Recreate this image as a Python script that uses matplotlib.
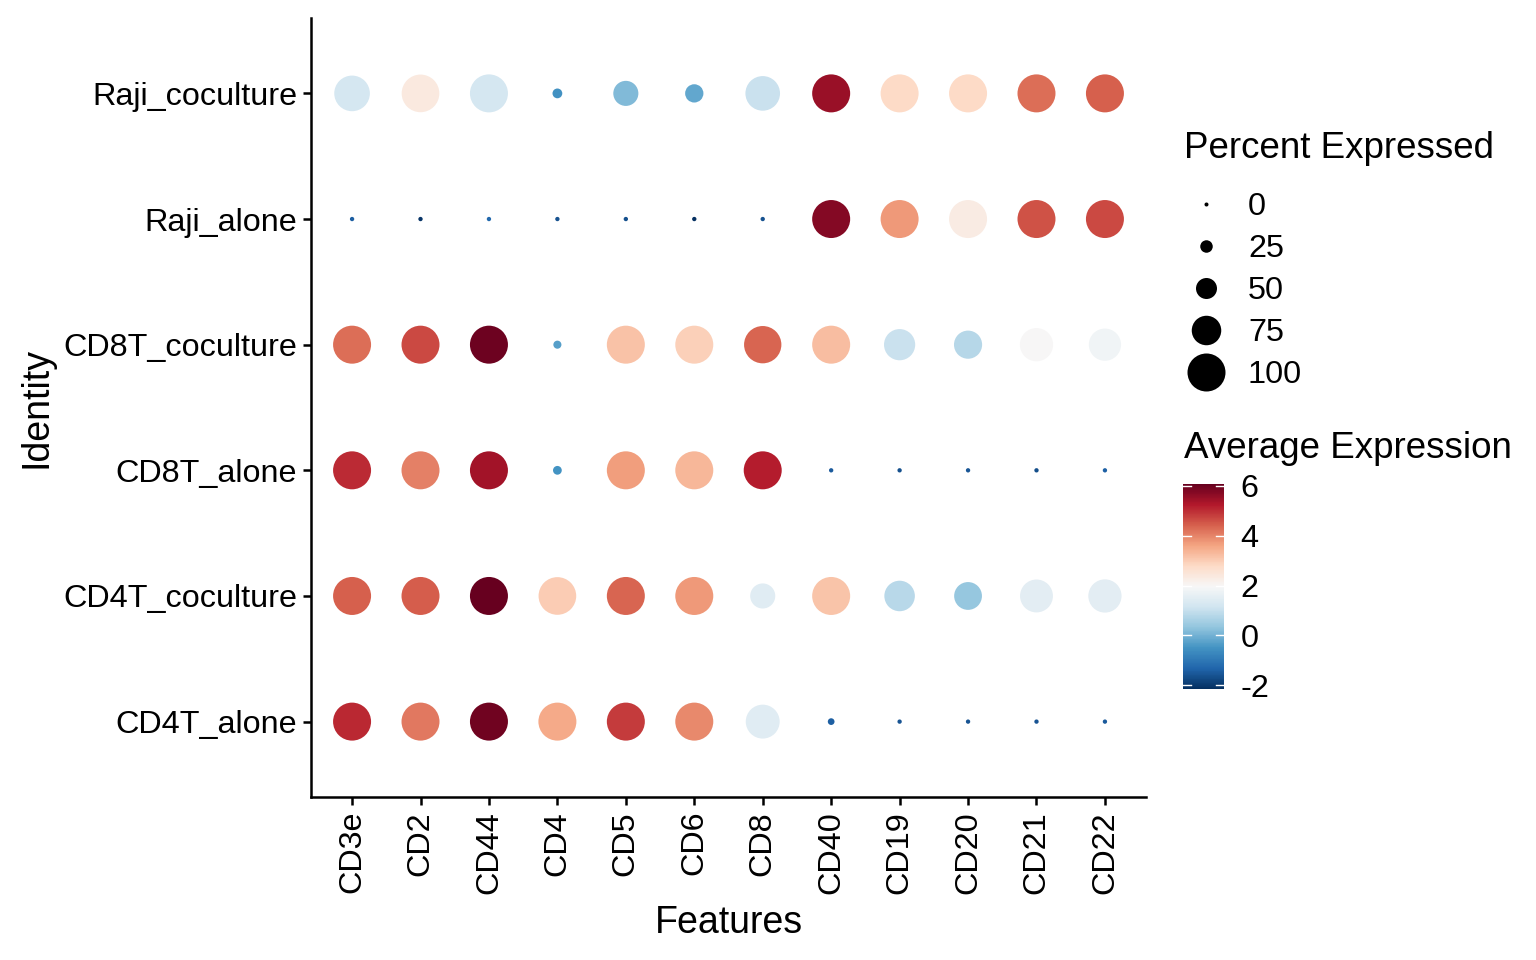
import numpy as np
import matplotlib
matplotlib.use("Agg")
import matplotlib.pyplot as plt
from matplotlib.colors import Normalize
from matplotlib.lines import Line2D

plt.rcParams['font.family'] = ['Liberation Sans', 'DejaVu Sans']
plt.rcParams['axes.unicode_minus'] = False

features = ['CD3e', 'CD2', 'CD44', 'CD4', 'CD5', 'CD6', 'CD8',
            'CD40', 'CD19', 'CD20', 'CD21', 'CD22']
# bottom to top
identities = ['CD4T_alone', 'CD4T_coculture', 'CD8T_alone',
              'CD8T_coculture', 'Raji_alone', 'Raji_coculture']

# percent expressed, one row per identity (bottom to top)
pct_cd4_alone = [100, 100, 100, 100, 100, 100, 88, 8, 1, 1, 1, 1]
pct_cd4_co = [100, 100, 100, 99, 100, 100, 62, 100, 78, 70, 85, 86]
pct_cd8_alone = [100, 100, 100, 14, 100, 100, 100, 1, 1, 1, 1, 1]
pct_cd8_co = [100, 100, 100, 12, 100, 100, 98, 100, 80, 71, 86, 83]
pct_raji_alone = [1, 1, 1, 1, 1, 1, 1, 100, 100, 100, 100, 100]
pct_raji_co = [93, 99, 100, 17, 62, 42, 90, 100, 100, 100, 100, 100]

# average expression
avg_cd4_alone = [5.07, 4.13, 5.96, 3.53, 4.84, 3.94, 1.47, -1.45, -1.6, -1.6, -1.6, -1.5]
avg_cd4_co = [4.43, 4.47, 6.08, 3.0, 4.35, 3.75, 1.47, 3.15, 0.83, 0.36, 1.52, 1.52]
avg_cd8_alone = [5.03, 4.02, 5.43, -0.51, 3.69, 3.32, 5.21, -1.5, -1.65, -1.55, -1.7, -1.4]
avg_cd8_co = [4.27, 4.69, 5.99, -0.32, 3.16, 2.95, 4.35, 3.23, 1.05, 0.78, 1.96, 1.8]
avg_raji_alone = [-1.42, -2.08, -1.29, -1.62, -1.65, -2.16, -1.62, 5.73, 3.75, 2.31, 4.59, 4.68]
avg_raji_co = [1.22, 2.37, 1.22, -0.55, 0.15, -0.19, 1.05, 5.52, 2.78, 2.78, 4.27, 4.43]

pct = np.array([pct_cd4_alone, pct_cd4_co, pct_cd8_alone,
                pct_cd8_co, pct_raji_alone, pct_raji_co])
avg = np.array([avg_cd4_alone, avg_cd4_co, avg_cd8_alone,
                avg_cd8_co, avg_raji_alone, avg_raji_co])

size_breaks = [0, 25, 50, 75, 100]
color_ticks = [-2, 0, 2, 4, 6]

DPI = 100


def dot_size(p):
    # diameter in px grows linearly with percent (like scale_radius)
    d = 4 + 0.34 * np.asarray(p, dtype=float)
    return (d * 72 / DPI) ** 2


fig = plt.figure(figsize=(15.36, 9.6), dpi=DPI)
ax = fig.add_axes([311/1536, 1-797/960, (1146-311)/1536, (797-18)/960])

norm = Normalize(vmin=-2.16, vmax=6.08)
cmap = plt.get_cmap('RdBu_r')

xx, yy = np.meshgrid(np.arange(len(features)), np.arange(len(identities)))
sc = ax.scatter(xx.ravel(), yy.ravel(), s=dot_size(pct.ravel()),
                c=avg.ravel(), cmap=cmap, norm=norm, linewidths=0)

ax.set_xlim(-0.6, len(features) - 0.4)
ax.set_ylim(-0.6, len(identities) - 0.4)
ax.set_xticks(range(len(features)))
ax.set_xticklabels(features, rotation=90, fontsize=23.3)
ax.set_yticks(range(len(identities)))
ax.set_yticklabels(identities, fontsize=23.3)
for s in ['top', 'right']:
    ax.spines[s].set_visible(False)
for s in ['left', 'bottom']:
    ax.spines[s].set_linewidth(1.8)
ax.tick_params(width=1.8, length=6, pad=4)
ax.set_xlabel('Features', fontsize=27, labelpad=8)
ax.set_ylabel('Identity', fontsize=27, labelpad=6)

# size legend
fig.text(1184/1536, 1-148/960, 'Percent Expressed', fontsize=26.5,
         va='center', ha='left')
handles = [Line2D([], [], marker='o', linestyle='none', color='black',
                  markersize=np.sqrt(dot_size(b)), markeredgewidth=0)
           for b in size_breaks]
leg = fig.legend(handles, [str(b) for b in size_breaks],
                 loc='upper left', bbox_to_anchor=(1167/1536, 1-179/960),
                 frameon=False, fontsize=23.3, labelspacing=0.37,
                 handletextpad=0.5, borderaxespad=0, handlelength=1.6)

# colour bar
cax = fig.add_axes([1183/1536, 1-689/960, 41/1536, 205/960])
cb = fig.colorbar(sc, cax=cax, ticks=color_ticks)
cb.outline.set_visible(False)
cb.ax.tick_params(labelsize=23.3, length=0, pad=12)
for t in color_ticks:
    cax.plot([0, 0.2], [t, t], color='white', lw=1, transform=cax.get_yaxis_transform())
    cax.plot([0.8, 1], [t, t], color='white', lw=1, transform=cax.get_yaxis_transform())
fig.text(1184/1536, 1-448/960, 'Average Expression', fontsize=26.5,
         va='center', ha='left')

fig.savefig('out.png', dpi=DPI)
